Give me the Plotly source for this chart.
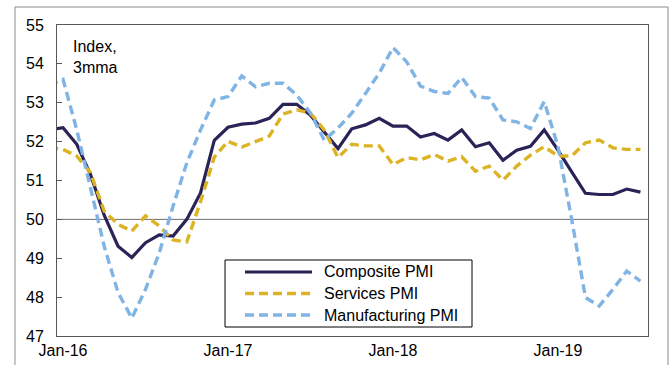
import pandas as pd
import plotly.graph_objects as go

# Monthly categories, Dec-15 .. Jul-19
months = list(pd.date_range("2015-12-01", periods=44, freq="MS").strftime("%b-%y"))

composite = [52.30, 52.36, 51.93, 51.15, 50.10, 49.31, 49.02, 49.40, 49.60, 49.57,
             50.00, 50.68, 52.03, 52.37, 52.45, 52.48, 52.60, 52.96, 52.96, 52.68,
             52.25, 51.82, 52.33, 52.43, 52.60, 52.40, 52.40, 52.12, 52.21, 52.04,
             52.30, 51.87, 51.97, 51.52, 51.78, 51.88, 52.30, 51.78, 51.22, 50.67,
             50.64, 50.64, 50.78, 50.70]

services = [51.85, 51.80, 51.63, 51.20, 50.21, 49.87, 49.70, 50.09, 49.83, 49.47,
            49.42, 50.45, 51.60, 52.01, 51.86, 52.01, 52.14, 52.71, 52.82, 52.73,
            52.30, 51.59, 51.93, 51.89, 51.89, 51.41, 51.59, 51.53, 51.67, 51.50,
            51.61, 51.24, 51.37, 51.01, 51.37, 51.65, 51.87, 51.63, 51.63, 51.97,
            52.04, 51.84, 51.80, 51.80]

manufacturing = [53.45, 53.60, 52.30, 50.80, 49.30, 48.12, 47.46, 48.20, 49.14, 50.34,
                 51.45, 52.30, 53.07, 53.16, 53.69, 53.41, 53.50, 53.50, 53.20, 52.73,
                 52.04, 52.35, 52.73, 53.24, 53.76, 54.42, 54.05, 53.43, 53.29, 53.24,
                 53.65, 53.16, 53.12, 52.56, 52.51, 52.34, 53.03, 51.88, 50.00, 47.99,
                 47.77, 48.20, 48.67, 48.41]

series_names = ["Composite PMI", "Services PMI", "Manufacturing PMI"]
tick_labels = ["Jan-16", "Jan-17", "Jan-18", "Jan-19"]
y_ticks = list(range(47, 56))

FONT = "Liberation Sans, Arial, sans-serif"
FRAME = "#595959"
SIZE = 16

styles = [
    dict(color="#2a2357", width=3.2, dash="solid"),
    dict(color="#dcb325", width=3.4, dash="9px,5px"),
    dict(color="#7fb4e4", width=3.4, dash="9px,5px"),
]

fig = go.Figure()
for name, values, style in zip(series_names, [composite, services, manufacturing], styles):
    fig.add_trace(go.Scatter(x=months, y=values, name=name, mode="lines",
                             line=style, showlegend=False))

# 50 reference line
fig.add_hline(y=50, line=dict(color="#6f6f6f", width=1), layer="below")

# outer chart frame
fig.add_shape(type="rect", xref="paper", yref="paper",
              x0=-0.0711, x1=1.0338, y0=-0.3, y1=1.0579,
              line=dict(color="#8a8a8a", width=1))

# boxed key in the lower middle of the plot
fig.add_shape(type="rect", xref="paper", yref="paper",
              x0=0.2843, x1=0.7022, y0=0.0289, y1=0.2444,
              fillcolor="white", line=dict(color="#000000", width=1))
row_y = [0.2058, 0.1367, 0.0675]
for name, style, yy in zip(series_names, styles, row_y):
    fig.add_shape(type="line", xref="paper", yref="paper",
                  x0=0.3181, x1=0.4315, y0=yy, y1=yy, line=style)
    fig.add_annotation(text=name, xref="paper", yref="paper", x=0.4484, y=yy,
                       xanchor="left", yanchor="middle", showarrow=False,
                       font=dict(family=FONT, size=SIZE, color="#000000"))

fig.add_annotation(text="Index,<br>3mma", xref="paper", yref="paper",
                   x=0.024, y=0.965, xanchor="left", yanchor="top",
                   showarrow=False, align="left",
                   font=dict(family=FONT, size=SIZE, color="#000000"))

fig.update_layout(
    width=670, height=365,
    margin=dict(l=57, r=22, t=25, b=29),
    paper_bgcolor="white", plot_bgcolor="white",
    font=dict(family=FONT, size=SIZE, color="#000000"),
    showlegend=False,
    xaxis=dict(type="category", range=[0.56, 43.55], automargin=False,
               tickmode="array", tickvals=tick_labels, ticktext=tick_labels,
               showgrid=False, zeroline=False, ticks="",
               showline=True, linecolor=FRAME, linewidth=1, mirror=True,
               tickfont=dict(family=FONT, size=SIZE)),
    yaxis=dict(range=[47, 55], tickvals=y_ticks, showgrid=False, zeroline=False,
               automargin=False,
               ticks="inside", ticklen=5, tickcolor=FRAME,
               showline=True, linecolor=FRAME, linewidth=1, mirror=True,
               tickfont=dict(family=FONT, size=SIZE), ticklabelstandoff=9),
)

fig.write_html("out.html")
